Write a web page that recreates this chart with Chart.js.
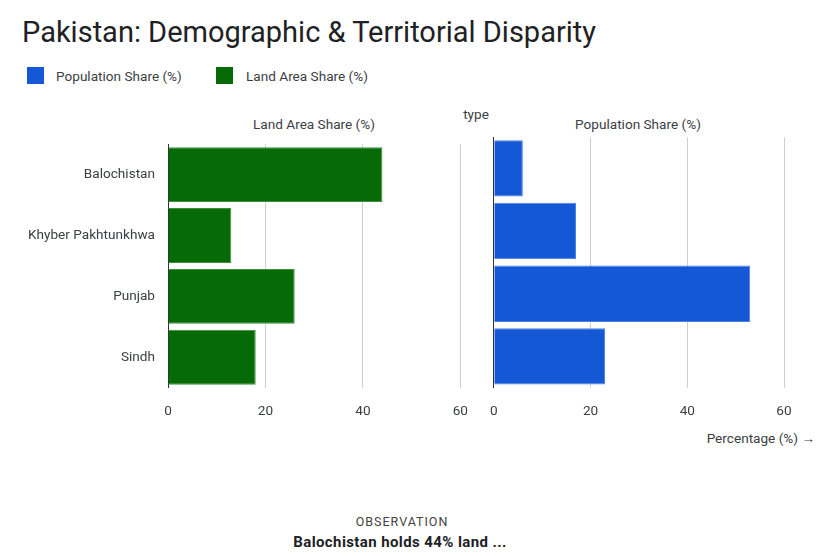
<!DOCTYPE html>
<html>
<head>
<meta charset="utf-8">
<script src="https://cdn.jsdelivr.net/npm/chart.js@4/dist/chart.umd.min.js"></script>
<style>
  body { margin: 0; background: #fff; font-family: Roboto, "Open Sans", sans-serif; }
  #wrap { position: relative; width: 827px; height: 556px; overflow: hidden; }
  .abs { position: absolute; white-space: nowrap; }
  canvas { position: absolute; }
  #titulo { left: 22px; top: 14px; font-size: 29px; color: #202124; line-height: 36px; }
  .sw { width: 17px; height: 17px; top: 67px; }
  .ley { top: 67px; font-size: 13.6px; color: #3c4043; line-height: 18px; }
  .faceta { top: 116px; font-size: 13.6px; color: #3c4043; transform: translateX(-50%); }
  #obsTit { left: 402px; top: 514px; transform: translateX(-50%); font-size: 12.5px; letter-spacing: 1px; color: #444; }
  #obsTxt { left: 400px; top: 533px; transform: translateX(-50%); font-size: 15px; letter-spacing: 0.4px; font-weight: bold; color: #202124; }
</style>
</head>
<body>
<div id="wrap">
  <div id="titulo" class="abs">Pakistan: Demographic &amp; Territorial Disparity</div>
  <div class="abs sw" style="left:27px;background:#1558d6"></div>
  <div class="abs ley" style="left:56px">Population Share (%)</div>
  <div class="abs sw" style="left:216px;background:#066a06"></div>
  <div class="abs ley" style="left:246px">Land Area Share (%)</div>
  <div class="abs" style="left:476px;top:106px;transform:translateX(-50%);font-size:13.6px;color:#3c4043">type</div>
  <div class="abs faceta" style="left:314px">Land Area Share (%)</div>
  <div class="abs faceta" style="left:638px">Population Share (%)</div>
  <div class="abs" style="right:12px;top:430px;font-size:13.6px;color:#3c4043">Percentage (%) &rarr;</div>
  <div id="obsTit" class="abs">OBSERVATION</div>
  <div id="obsTxt" class="abs">Balochistan holds 44% land ...</div>

  <canvas id="chartTierra" width="484" height="313" style="left:0;top:123px;width:484px;height:313px"></canvas>
  <canvas id="chartPoblacion" width="336" height="313" style="left:474px;top:123px;width:336px;height:313px"></canvas>
</div>

<script>
const provincias = ["Balochistan", "Khyber Pakhtunkhwa", "Punjab", "Sindh"];
const tierra = [44, 13, 26, 18];
const poblacion = [6, 17, 53, 23];
const ticksX = [0, 20, 40, 60];

Chart.defaults.font.family = "Roboto, 'Open Sans', sans-serif";
Chart.defaults.font.size = 13.6;
Chart.defaults.color = "#3c4043";
Chart.defaults.animation = false;

function opciones(anchoEjeY, mostrarNombres, padDerecho) {
  return {
    indexAxis: "y",
    responsive: false,
    layout: { padding: { top: 14, right: padDerecho, bottom: 0, left: 0 } },
    plugins: { legend: { display: false }, tooltip: { enabled: false } },
    scales: {
      x: {
        min: 0,
        max: 60,
        afterBuildTicks: (s) => { s.ticks = ticksX.map((v) => ({ value: v })); },
        grid: { color: "#cfcfcf", drawTicks: false },
        border: { display: false },
        ticks: { padding: 16, color: "#3c4043" },
      },
      y: {
        grid: { display: false, drawTicks: false },
        border: { display: true, color: "#333", width: 1 },
        ticks: { display: mostrarNombres, padding: 13, color: "#3c4043" },
        afterFit: (s) => { s.width = anchoEjeY; },
      },
    },
  };
}

new Chart(document.getElementById("chartTierra"), {
  type: "bar",
  data: {
    labels: provincias,
    datasets: [{
      label: "Land Area Share (%)",
      data: tierra,
      backgroundColor: "#066a06",
      borderColor: "#3d8f3d",
      borderWidth: 1,
      barPercentage: 0.9,
      categoryPercentage: 1,
    }],
  },
  options: opciones(168, true, 16),
});

new Chart(document.getElementById("chartPoblacion"), {
  type: "bar",
  data: {
    labels: provincias,
    datasets: [{
      label: "Population Share (%)",
      data: poblacion,
      backgroundColor: "#1558d6",
      borderColor: "#4a80e4",
      borderWidth: 1,
      barPercentage: 0.9,
      categoryPercentage: 1,
    }],
  },
  options: opciones(13, false, 26),
});
</script>
</body>
</html>
